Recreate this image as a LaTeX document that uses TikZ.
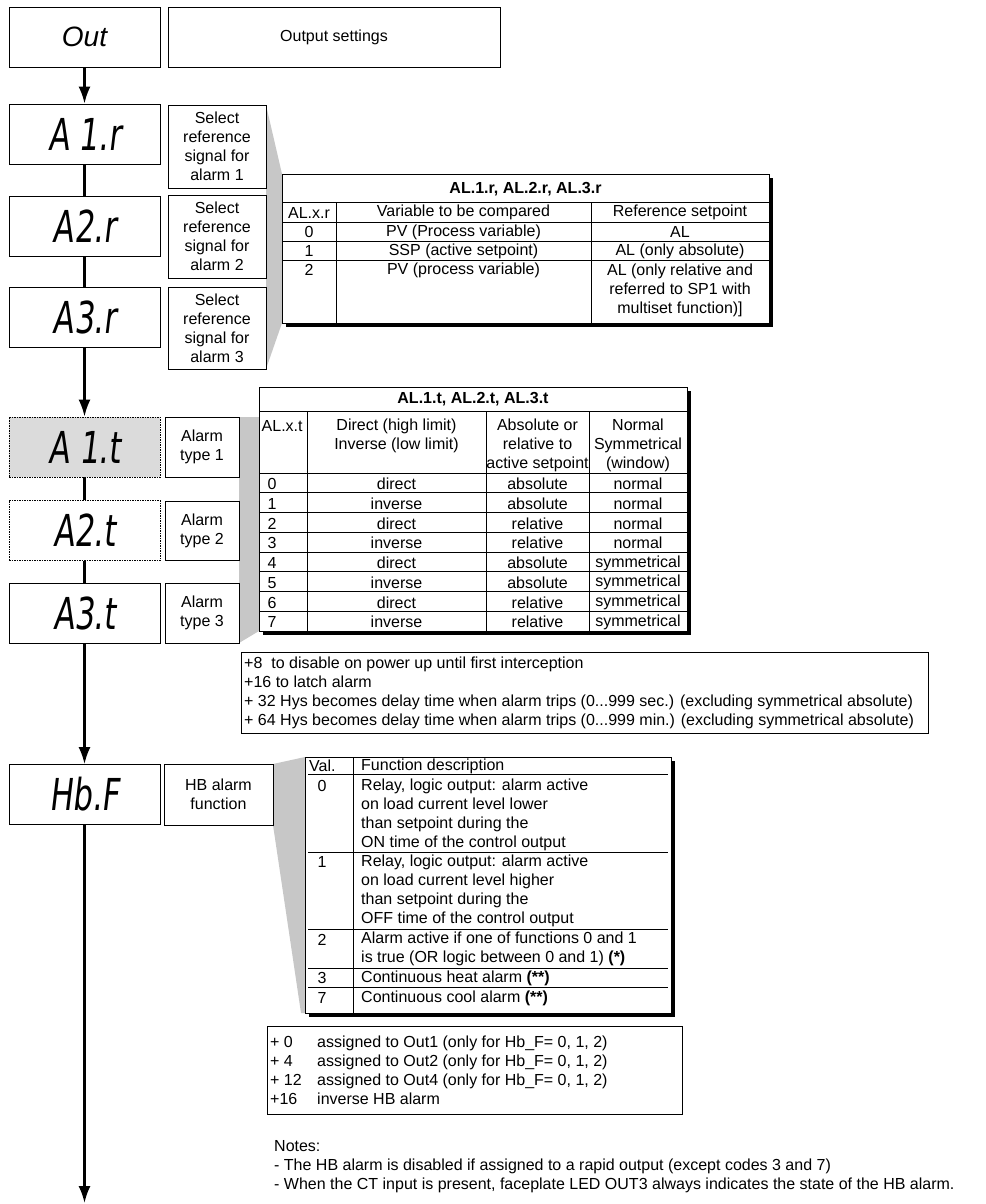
\documentclass[tikz,border=0pt]{standalone}
\usepackage{fontspec}
\setmainfont{Liberation Sans}
\newfontfamily\segfont[FakeSlant=0.12,FakeStretch=0.7]{DejaVu Sans}
\usetikzlibrary{arrows.meta,calc}
\newcommand\cellfont{\fontsize{16}{19}\selectfont}

\tikzset{
  disp/.style={draw,line width=0.9pt,minimum width=151pt,minimum height=60pt,inner sep=0pt,
    font=\segfont\fontsize{44}{44}\selectfont},
  lbl/.style={draw,line width=0.9pt,align=center,inner sep=0pt,font=\cellfont},
  cell/.style={inner sep=0pt,font=\cellfont},
  rule/.style={line width=0.9pt},
  flow/.style={line width=2.2pt},
  flowarr/.style={flow,-{Latex[length=17pt,width=12pt]}},
  fan/.style={fill=black!22},
  shade/.style={fill=black}
}

\begin{document}
\begin{tikzpicture}[x=1pt,y=-1pt]
    \useasboundingbox (0,0) rectangle (985,1204);

    % grey fans from the labels to the tables
    \fill[fan] (266,105) -- (282,174) -- (282,323) -- (266,369) -- cycle;
    \fill[fan] (239,417) -- (259,417) -- (259,631) -- (239,643) -- cycle;
    \fill[fan] (273,764) -- (305,757) -- (305,1013) -- (301,1013) -- (273,825) -- cycle;

    % menu chain
    \node[disp,font=\itshape\fontsize{28}{28}\selectfont] (out) at (84.5,37) {Out};
    \node[lbl,minimum width=332pt,minimum height=60pt] (outlbl) at (334,37) {Output settings};

    \node[disp] (a1r) at (84.5,134) {A 1.r};
    \node[disp] (a2r) at (84.5,226) {A2.r};
    \node[disp] (a3r) at (84.5,317) {A3.r};
    \node[lbl,minimum width=98pt,minimum height=83pt] (a1rlbl) at (217,146.5) {Select\\reference\\signal for\\alarm 1};
    \node[lbl,minimum width=98pt,minimum height=83pt] (a2rlbl) at (217,236.5) {Select\\reference\\signal for\\alarm 2};
    \node[lbl,minimum width=98pt,minimum height=82pt] (a3rlbl) at (217,328) {Select\\reference\\signal for\\alarm 3};

    \node[disp,fill=black!14,dash pattern=on 1.5pt off 1pt] (a1t) at (84.5,447) {A 1.t};
    \node[disp,dash pattern=on 1.5pt off 1pt] (a2t) at (84.5,530.5) {A2.t};
    \node[disp] (a3t) at (84.5,613) {A3.t};
    \node[lbl,minimum width=74pt,minimum height=60pt] (a1tlbl) at (202,447) {Alarm\\type 1};
    \node[lbl,minimum width=74pt,minimum height=59pt] (a2tlbl) at (202,530.5) {Alarm\\type 2};
    \node[lbl,minimum width=74pt,minimum height=60pt] (a3tlbl) at (202,613) {Alarm\\type 3};

    \node[disp] (hbf) at (84.5,794.5) {Hb.F};
    \node[lbl,minimum width=109pt,minimum height=61pt] (hbflbl) at (218.5,794.5) {HB alarm\\function};
    \coordinate (end) at (84.5,1203);

    \draw[flowarr] (out) -- (a1r);
    \draw[flow] (a1r) -- (a2r);
    \draw[flow] (a2r) -- (a3r);
    \draw[flowarr] (a3r) -- (a1t);
    \draw[flow] (a1t) -- (a2t);
    \draw[flow] (a2t) -- (a3t);
    \draw[flowarr] (a3t) -- (hbf);
    \draw[flowarr] (hbf) -- (end);

    % AL.x.r table
    \fill[shade] (286,178) rectangle (773,327);
    \draw[rule,fill=white] (282,174) rectangle (769,323);
    \draw[rule] (282,202) -- (769,202) (282,222) -- (769,222) (282,241) -- (769,241)
        (282,260) -- (769,260) (336,202) -- (336,323) (591,202) -- (591,323);
    \node[cell,font=\cellfont\bfseries] (rtitle) at (525.5,189) {AL.1.r, AL.2.r, AL.3.r};
    \node[cell] (rh1) at (309,212.5) {AL.x.r};
    \node[cell] (rh2) at (463.5,212.5) {Variable to be compared};
    \node[cell] (rh3) at (680,212.5) {Reference setpoint};
    \node[cell] (rv0) at (309,232) {0};
    \node[cell] (rc0) at (463.5,232) {PV (Process variable)};
    \node[cell] (rs0) at (680,232) {AL};
    \node[cell] (rv1) at (309,251) {1};
    \node[cell] (rc1) at (463.5,251) {SSP (active setpoint)};
    \node[cell] (rs1) at (680,251) {AL (only absolute)};
    \node[cell] (rv2) at (309,270) {2};
    \node[cell] (rc2) at (463.5,270) {PV (process variable)};
    \node[cell,align=center] (rs2) at (680,290) {AL (only relative and\\referred to SP1 with\\multiset function)]};

    % AL.x.t table
    \fill[shade] (263,391) rectangle (691,635);
    \draw[rule,fill=white] (259,387) rectangle (687,631);
    \draw[rule] (259,411) -- (687,411) (259,473) -- (687,473)
        (307,411) -- (307,631) (486,411) -- (486,631) (589,411) -- (589,631);
    \foreach \k in {1,...,7}
        \draw[rule] (259,{473+19.75*\k}) -- (687,{473+19.75*\k});
    \node[cell,font=\cellfont\bfseries] (ttitle) at (473,399) {AL.1.t, AL.2.t, AL.3.t};
    \node[cell,anchor=west] (th1) at (261.5,426) {AL.x.t};
    \node[cell,align=center] (th2) at (396.5,435.5) {Direct (high limit)\\Inverse (low limit)};
    \node[cell,align=center] (th3) at (537.5,445) {Absolute or\\relative to\\active setpoint};
    \node[cell,align=center] (th4) at (638,445) {Normal\\Symmetrical\\(window)};
    \foreach \d/\r/\n [count=\i from 0] in {direct/absolute/normal,inverse/absolute/normal,
        direct/relative/normal,inverse/relative/normal,direct/absolute/symmetrical,
        inverse/absolute/symmetrical,direct/relative/symmetrical,inverse/relative/symmetrical} {
        \node[cell] (tv\i) at (272,{484+19.75*\i}) {\i};
        \node[cell] (td\i) at (396.5,{484+19.75*\i}) {\d};
        \node[cell] (tr\i) at (537.5,{484+19.75*\i}) {\r};
        \node[cell] (tn\i) at (638,{484+19.75*\i}) {\n};
    }

    % additive codes for the alarm type
    \draw[rule] (241,652) rectangle (928,733);
    \node[cell,anchor=west,align=left] (tadd) at (244,693) {+8\ \ to disable on power up until first interception\\
        +16 to latch alarm\\
        + 32 Hys becomes delay time when alarm trips (0...999 sec.) (excluding symmetrical absolute)\\
        + 64 Hys becomes delay time when alarm trips (0...999 min.) (excluding symmetrical absolute)};

    % HB function table
    \fill[shade] (309,761) rectangle (675,1017);
    \draw[rule,fill=white] (305,757) rectangle (671,1013);
    \draw[rule] (353,757) -- (353,1013);
    \foreach \k in {774,852,929,968,987}
        \draw[rule] (308,\k) -- (668,\k);
    \node[cell,anchor=west] (hh1) at (309,766) {Val.};
    \node[cell,anchor=west] (hh2) at (361,766) {Function description};
    \node[cell] (hv0) at (322,786) {0};
    \node[cell,anchor=west,align=left] (hd0) at (361,814.5) {Relay, logic output: alarm active\\
        on load current level lower\\than setpoint during the\\ON time of the control output};
    \node[cell] (hv1) at (322,862) {1};
    \node[cell,anchor=west,align=left] (hd1) at (361,890.5) {Relay, logic output: alarm active\\
        on load current level higher\\than setpoint during the\\OFF time of the control output};
    \node[cell] (hv2) at (322,940) {2};
    \node[cell,anchor=west,align=left] (hd2) at (361,949) {Alarm active if one of functions 0 and 1\\
        is true (OR logic between 0 and 1) \textbf{(*)}};
    \node[cell] (hv3) at (322,978) {3};
    \node[cell,anchor=west] (hd3) at (361,978) {Continuous heat alarm \textbf{(**)}};
    \node[cell] (hv7) at (322,998) {7};
    \node[cell,anchor=west] (hd7) at (361,998) {Continuous cool alarm \textbf{(**)}};

    % output assignment codes
    \draw[rule] (267,1026) rectangle (682,1114);
    \node[cell,anchor=west,align=left] (hadd) at (270,1070.5) {+ 0\\+ 4\\+ 12\\+16};
    \node[cell,anchor=west,align=left] (hout) at (317,1070.5) {assigned to Out1 (only for Hb\_F= 0, 1, 2)\\
        assigned to Out2 (only for Hb\_F= 0, 1, 2)\\assigned to Out4 (only for Hb\_F= 0, 1, 2)\\inverse HB alarm};

    \node[cell,anchor=west,align=left] (notes) at (274,1166.5) {Notes:\\
        - The HB alarm is disabled if assigned to a rapid output (except codes 3 and 7)\\
        - When the CT input is present, faceplate LED OUT3 always indicates the state of the HB alarm.};

\end{tikzpicture}
\end{document}
